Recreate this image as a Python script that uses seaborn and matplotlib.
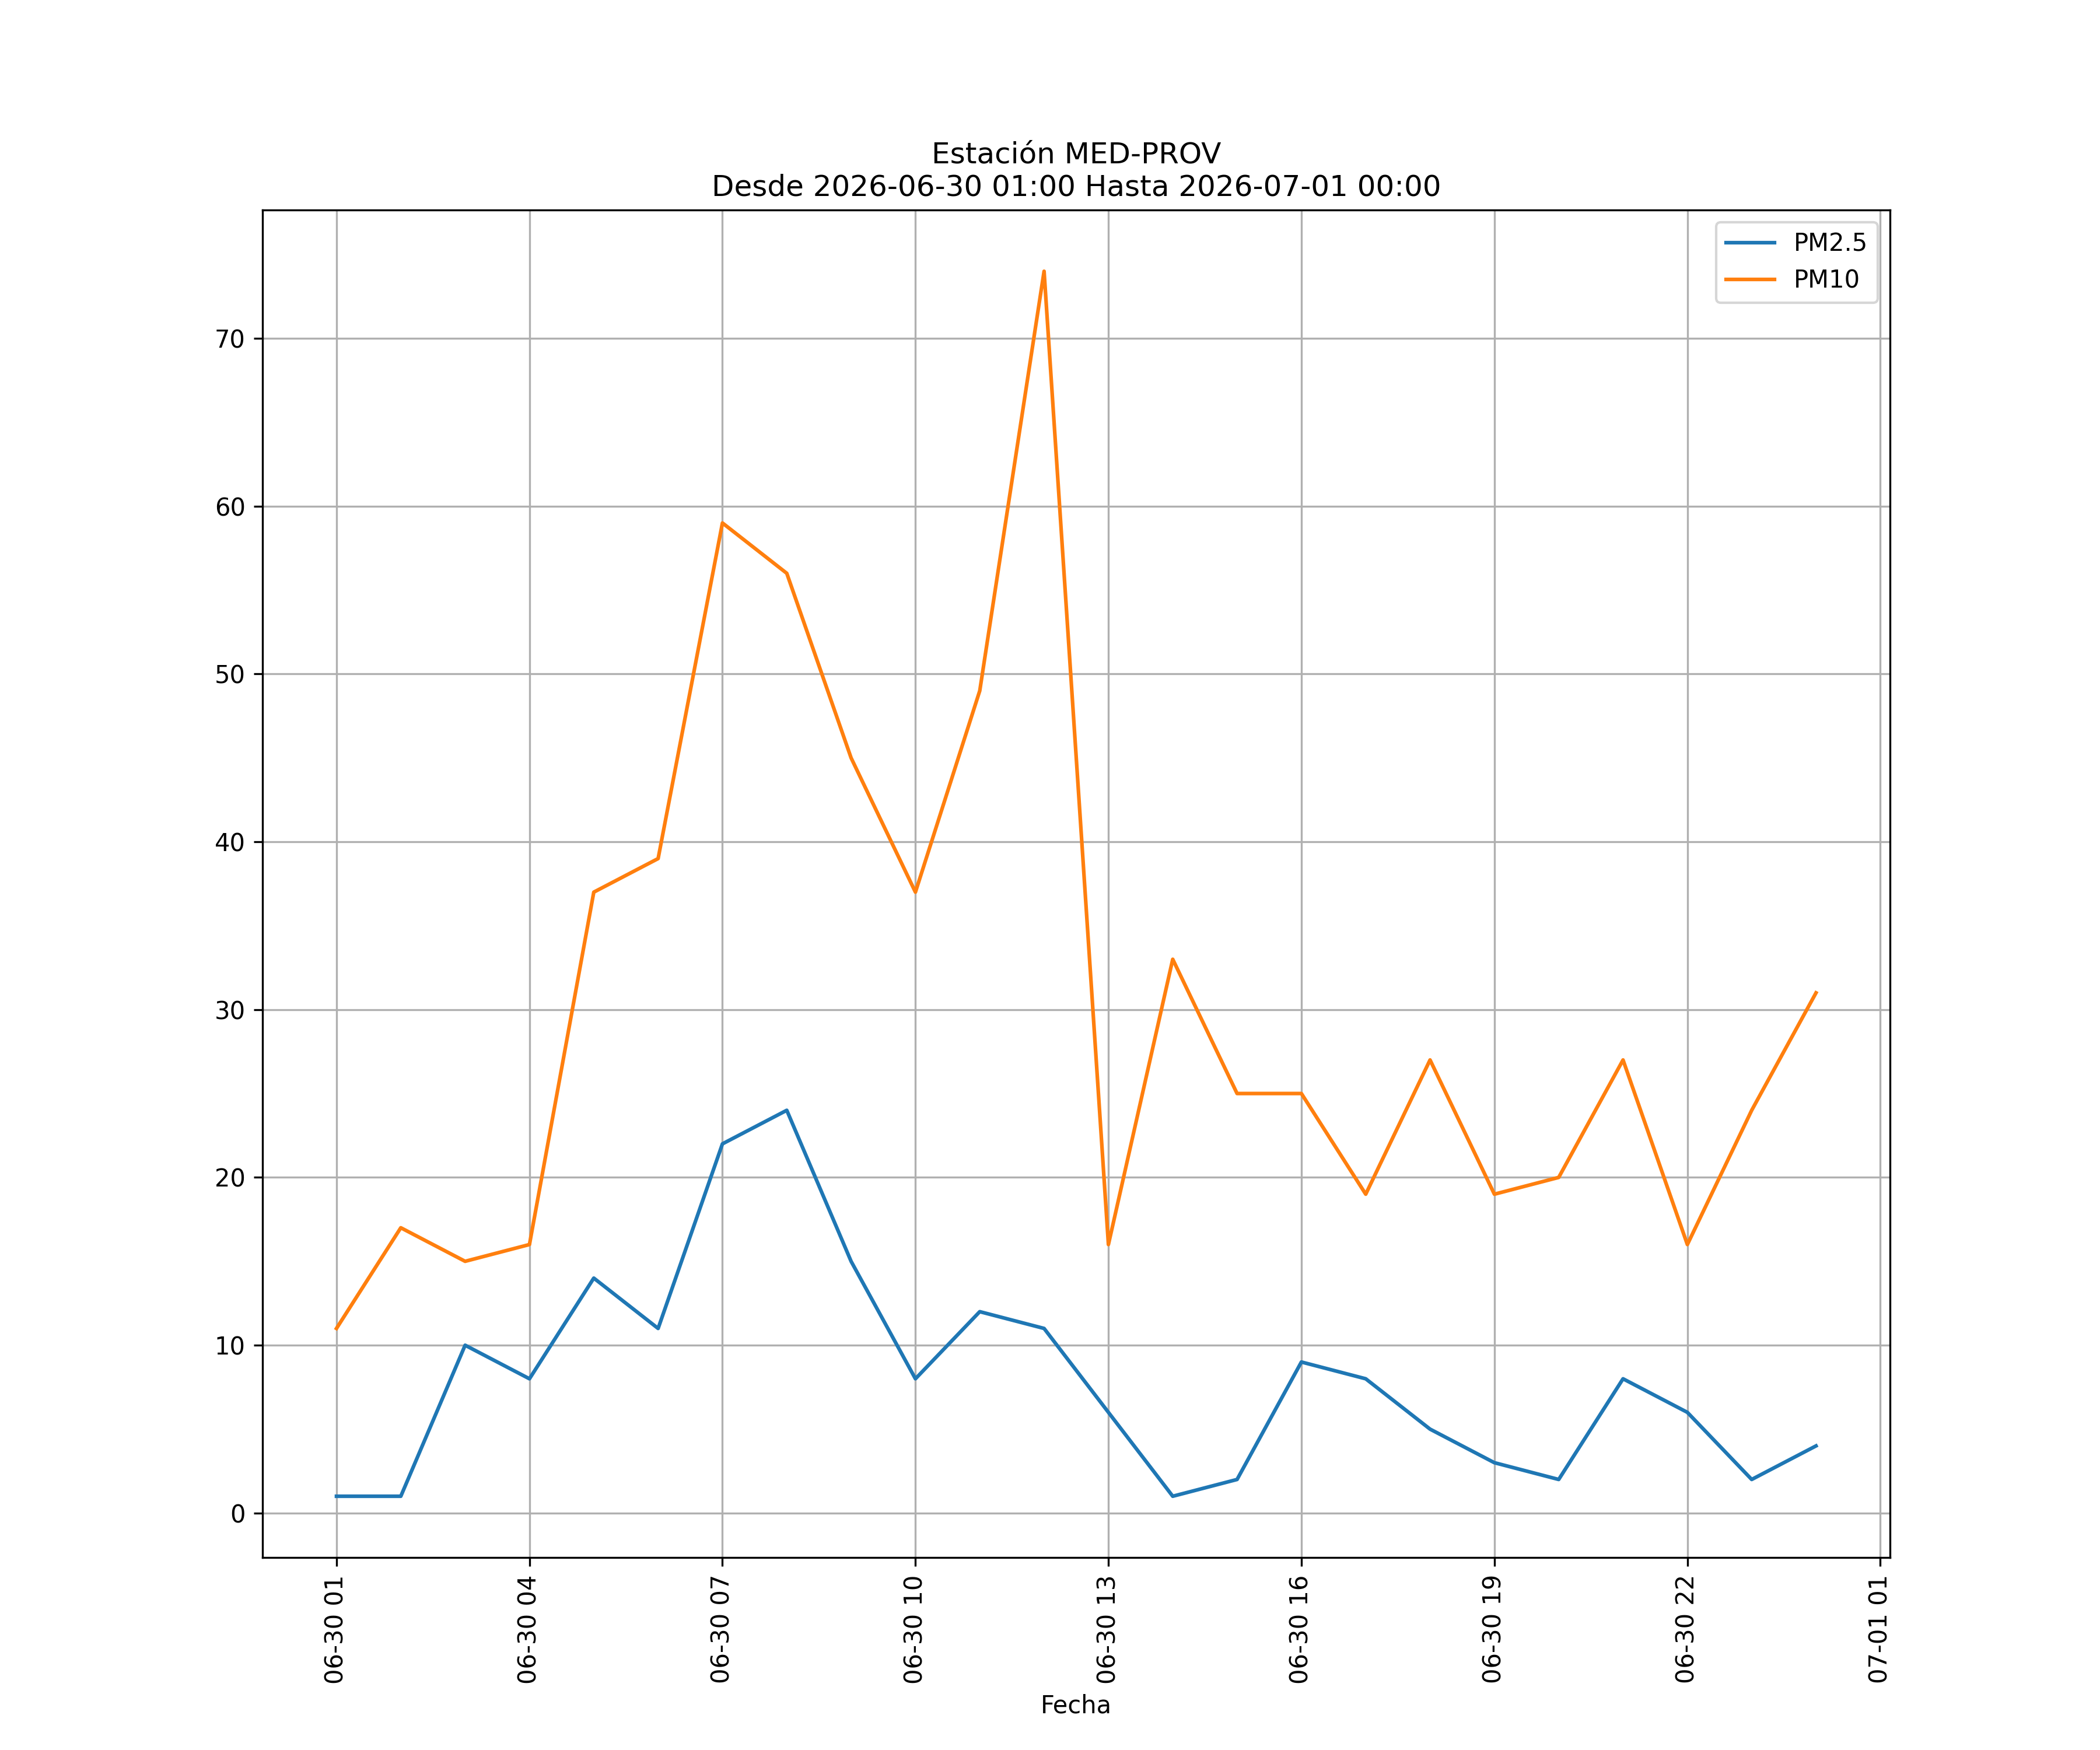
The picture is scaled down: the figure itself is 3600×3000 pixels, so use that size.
import pandas as pd
import matplotlib
matplotlib.use("Agg")
import matplotlib.pyplot as plt
import matplotlib.dates as mdates
import seaborn as sns

# Hourly readings, 2026-06-30 01:00 to 2026-07-01 00:00
fechas = pd.date_range("2026-06-30 01:00", periods=24, freq="h")
pm25 = [1, 1, 10, 8, 14, 11, 22, 24, 15, 8, 12, 11, 6, 1, 2, 9, 8, 5, 3, 2, 8, 6, 2, 4]
pm10 = [11, 17, 15, 16, 37, 39, 59, 56, 45, 37, 49, 74, 16, 33, 25, 25, 19, 27, 19, 20, 27, 16, 24, 31]

df = pd.DataFrame({"Fecha": fechas, "PM2.5": pm25, "PM10": pm10})
df_long = df.melt(id_vars="Fecha", var_name="Contaminante", value_name="Valor")

fig, ax = plt.subplots(figsize=(12, 10))
sns.lineplot(data=df_long, x="Fecha", y="Valor", hue="Contaminante",
             palette=["#1f77b4", "#ff7f0e"], ax=ax)

ax.set_title("Estación MED-PROV\nDesde 2026-06-30 01:00 Hasta 2026-07-01 00:00")
ax.set_xlabel("Fecha")
ax.set_ylabel("")
ax.xaxis.set_major_locator(mdates.HourLocator(byhour=[1, 4, 7, 10, 13, 16, 19, 22]))
ax.xaxis.set_major_formatter(mdates.DateFormatter("%m-%d %H"))
plt.xticks(rotation=90)
ax.grid(True)
ax.legend(title=None, loc="upper right")

fig.savefig("out.png", dpi=300)
